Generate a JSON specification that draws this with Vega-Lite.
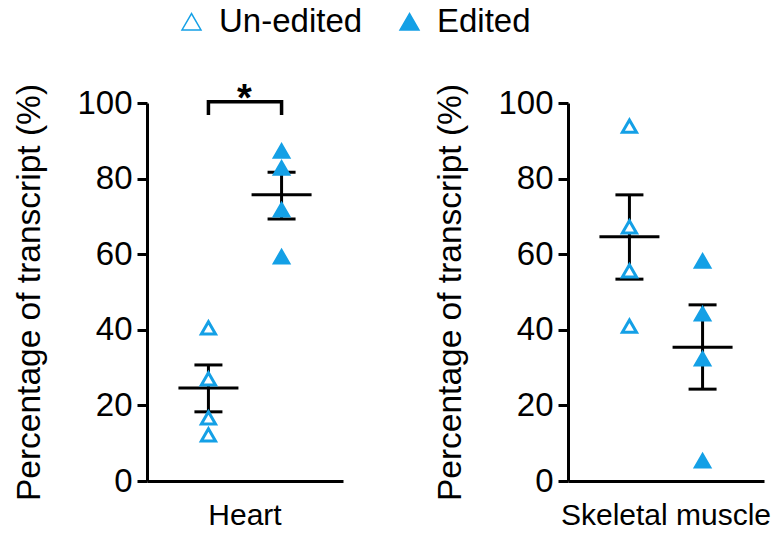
{
  "$schema": "https://vega.github.io/schema/vega-lite/v6.json",
  "padding": {"left": 12, "top": 5, "right": 5, "bottom": 0},
  "config": {
    "font": "Liberation Sans",
    "view": {"stroke": null},
    "axis": {"domainColor": "black", "domainWidth": 3, "tickColor": "black", "tickWidth": 3, "tickSize": 10, "labelFontSize": 33, "labelColor": "black", "titleFontSize": 33.5, "titleFontWeight": "normal", "titleColor": "black", "grid": false, "labelPadding": 5, "titlePadding": 30},
    "legend": {"labelFontSize": 33, "labelColor": "black", "symbolSize": 360, "labelOffset": 11, "columnPadding": 30},
    "header": {"labelFontSize": 30, "labelColor": "black"}
  },
  "data": {"values": [
    {"kind": "pt", "tissue": "Heart", "group": "Un-edited", "value": 40.5},
    {"kind": "pt", "tissue": "Heart", "group": "Un-edited", "value": 27.0},
    {"kind": "pt", "tissue": "Heart", "group": "Un-edited", "value": 16.7},
    {"kind": "pt", "tissue": "Heart", "group": "Un-edited", "value": 12.2},
    {"kind": "pt", "tissue": "Heart", "group": "Edited", "value": 87.3},
    {"kind": "pt", "tissue": "Heart", "group": "Edited", "value": 82.8},
    {"kind": "pt", "tissue": "Heart", "group": "Edited", "value": 71.7},
    {"kind": "pt", "tissue": "Heart", "group": "Edited", "value": 59.3},
    {"kind": "pt", "tissue": "Skeletal muscle", "group": "Un-edited", "value": 93.9},
    {"kind": "pt", "tissue": "Skeletal muscle", "group": "Un-edited", "value": 67.2},
    {"kind": "pt", "tissue": "Skeletal muscle", "group": "Un-edited", "value": 55.6},
    {"kind": "pt", "tissue": "Skeletal muscle", "group": "Un-edited", "value": 41.0},
    {"kind": "pt", "tissue": "Skeletal muscle", "group": "Edited", "value": 58.2},
    {"kind": "pt", "tissue": "Skeletal muscle", "group": "Edited", "value": 44.2},
    {"kind": "pt", "tissue": "Skeletal muscle", "group": "Edited", "value": 32.3},
    {"kind": "pt", "tissue": "Skeletal muscle", "group": "Edited", "value": 5.3},
    {"kind": "sum", "tissue": "Heart", "group": "Un-edited", "mean": 24.6, "lo": 18.3, "hi": 30.7},
    {"kind": "sum", "tissue": "Heart", "group": "Edited", "mean": 75.7, "lo": 69.3, "hi": 81.7},
    {"kind": "sum", "tissue": "Skeletal muscle", "group": "Un-edited", "mean": 64.6, "lo": 53.4, "hi": 75.7},
    {"kind": "sum", "tissue": "Skeletal muscle", "group": "Edited", "mean": 35.4, "lo": 24.3, "hi": 46.6},
    {"kind": "br", "tissue": "Heart", "group": "Un-edited", "y": 96.8, "ord": 1},
    {"kind": "br", "tissue": "Heart", "group": "Un-edited", "y": 100.3, "ord": 2},
    {"kind": "br", "tissue": "Heart", "group": "Edited", "y": 100.3, "ord": 3},
    {"kind": "br", "tissue": "Heart", "group": "Edited", "y": 96.8, "ord": 4},
    {"kind": "star", "tissue": "Heart", "group": "Un-edited", "y": 100.3, "label": "*"}
  ]},
  "facet": {"column": {"field": "tissue", "type": "nominal", "sort": ["Heart", "Skeletal muscle"], "header": {"title": null, "labelOrient": "bottom", "labelPadding": 0, "labelBaseline": "top"}}},
  "spacing": 90,
  "resolve": {"axis": {"y": "independent", "x": "independent"}},
  "spec": {
    "width": 196,
    "height": 378,
    "layer": [
      {
        "transform": [{"filter": "datum.kind === 'sum'"}],
        "mark": {"type": "rule", "color": "black", "strokeWidth": 3},
        "encoding": {
          "x": {"field": "group", "type": "nominal", "scale": {"type": "point", "domain": ["Un-edited", "Edited"], "padding": 0.84}, "axis": {"title": null, "labels": false, "ticks": false}},
          "y": {"field": "lo", "type": "quantitative", "scale": {"domain": [0, 100], "nice": false}, "axis": {"title": "Percentage of transcript (%)", "values": [0, 20, 40, 60, 80, 100]}},
          "y2": {"field": "hi"}
        }
      },
      {
        "transform": [{"filter": "datum.kind === 'sum'"}],
        "mark": {"type": "tick", "color": "black", "size": 60, "thickness": 3, "opacity": 1},
        "encoding": {
          "x": {"field": "group", "type": "nominal", "scale": {"type": "point", "domain": ["Un-edited", "Edited"], "padding": 0.84}},
          "y": {"field": "mean", "type": "quantitative", "scale": {"domain": [0, 100], "nice": false}, "axis": {"title": "Percentage of transcript (%)", "values": [0, 20, 40, 60, 80, 100]}}
        }
      },
      {
        "transform": [{"filter": "datum.kind === 'sum'"}],
        "mark": {"type": "tick", "color": "black", "size": 28, "thickness": 3, "opacity": 1},
        "encoding": {
          "x": {"field": "group", "type": "nominal", "scale": {"type": "point", "domain": ["Un-edited", "Edited"], "padding": 0.84}},
          "y": {"field": "lo", "type": "quantitative", "scale": {"domain": [0, 100], "nice": false}, "axis": {"title": "Percentage of transcript (%)", "values": [0, 20, 40, 60, 80, 100]}}
        }
      },
      {
        "transform": [{"filter": "datum.kind === 'sum'"}],
        "mark": {"type": "tick", "color": "black", "size": 28, "thickness": 3, "opacity": 1},
        "encoding": {
          "x": {"field": "group", "type": "nominal", "scale": {"type": "point", "domain": ["Un-edited", "Edited"], "padding": 0.84}},
          "y": {"field": "hi", "type": "quantitative", "scale": {"domain": [0, 100], "nice": false}, "axis": {"title": "Percentage of transcript (%)", "values": [0, 20, 40, 60, 80, 100]}}
        }
      },
      {
        "transform": [{"filter": "datum.kind === 'br'"}],
        "mark": {"type": "line", "color": "black", "strokeWidth": 3.5, "strokeJoin": "miter", "strokeCap": "butt"},
        "encoding": {
          "x": {"field": "group", "type": "nominal", "scale": {"type": "point", "domain": ["Un-edited", "Edited"], "padding": 0.84}},
          "y": {"field": "y", "type": "quantitative", "scale": {"domain": [0, 100], "nice": false}, "axis": {"title": "Percentage of transcript (%)", "values": [0, 20, 40, 60, 80, 100]}},
          "order": {"field": "ord", "type": "quantitative"}
        }
      },
      {
        "transform": [{"filter": "datum.kind === 'star'"}],
        "mark": {"type": "text", "color": "black", "fontSize": 38, "fontWeight": "bold", "baseline": "alphabetic", "dx": 36, "dy": 9},
        "encoding": {
          "x": {"field": "group", "type": "nominal", "scale": {"type": "point", "domain": ["Un-edited", "Edited"], "padding": 0.84}},
          "y": {"field": "y", "type": "quantitative", "scale": {"domain": [0, 100], "nice": false}, "axis": {"title": "Percentage of transcript (%)", "values": [0, 20, 40, 60, 80, 100]}},
          "text": {"field": "label"}
        }
      },
      {
        "transform": [{"filter": "datum.kind === 'pt'"}],
        "mark": {"type": "point", "filled": true, "stroke": "#14a0e6", "strokeWidth": 3, "size": 200, "opacity": 1},
        "encoding": {
          "x": {"field": "group", "type": "nominal", "scale": {"type": "point", "domain": ["Un-edited", "Edited"], "padding": 0.84}},
          "y": {"field": "value", "type": "quantitative", "scale": {"domain": [0, 100], "nice": false}, "axis": {"title": "Percentage of transcript (%)", "values": [0, 20, 40, 60, 80, 100]}},
          "shape": {"field": "group", "type": "nominal", "scale": {"domain": ["Un-edited", "Edited"], "range": ["triangle-up", "triangle-up"]}, "legend": {"title": null, "orient": "none", "legendX": 28, "legendY": -98, "direction": "horizontal", "encode": {"symbols": {"update": {"stroke": {"value": "#14a0e6"}, "strokeWidth": {"value": 3}}}}}},
          "fill": {"field": "group", "type": "nominal", "scale": {"domain": ["Un-edited", "Edited"], "range": ["white", "#14a0e6"]}, "legend": {"title": null, "orient": "none", "legendX": 28, "legendY": -98, "direction": "horizontal", "encode": {"symbols": {"update": {"stroke": {"value": "#14a0e6"}, "strokeWidth": {"value": 3}}}}}}
        }
      }
    ]
  }
}
